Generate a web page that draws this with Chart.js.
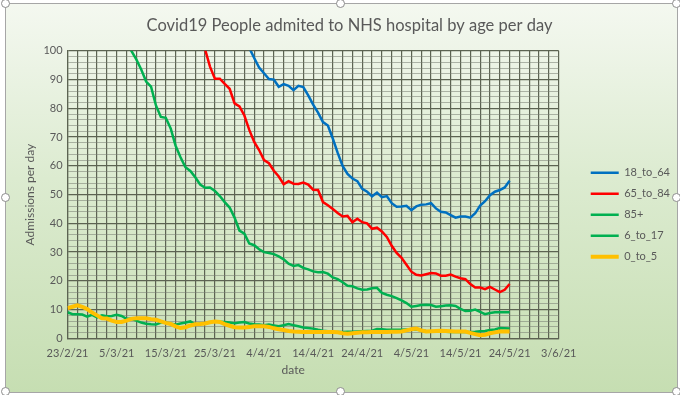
<!DOCTYPE html>
<html>
<head>
<meta charset="utf-8">
<script src="https://cdn.jsdelivr.net/npm/chart.js@4"></script>
<style>
  html, body { margin: 0; padding: 0; background: #fff; }
  #frame {
    position: absolute; left: 5px; top: 3px; width: 671px; height: 388px;
    border: 1px solid #a6a6a6;
    background: linear-gradient(to bottom, #f4f8f0 0%, #dcebd0 45%, #c6deb2 100%);
  }
  .handle {
    position: absolute; width: 9px; height: 9px; border-radius: 50%;
    background: #fff; border: 1px solid #8c8c8c; box-sizing: border-box;
  }
</style>
</head>
<body>
<div id="frame"><canvas id="chart"></canvas></div>
<script>
// day index 0 = 23/2/21, one value per day up to 24/5/21
const dateTicks = ['23/2/21', '5/3/21', '15/3/21', '25/3/21', '4/4/21', '14/4/21', '24/4/21', '4/5/21', '14/5/21', '24/5/21', '3/6/21'];
const seriesNames = ['18_to_64', '65_to_84', '85+', '6_to_17', '0_to_5'];

const age18to64 = [
  null, null, null, null, null, null, null, null, null, null,
  null, null, null, null, null, null, null, null, null, null,
  null, null, null, null, null, null, null, null, null, null,
  null, null, null, null, null, null, 104, 101, 97.5, 94.2,
  92.2, 90.2, 90, 87.5, 88.4, 87.8, 86.3, 87.8, 87.4, 84.5,
  81.3, 78.5, 75.2, 74, 69.5, 64.5, 60, 57.2, 55.6, 54.7,
  52, 51, 49.4, 50.7, 49.1, 49.5, 47, 45.8, 45.9, 46.1,
  44.6, 45.9, 46.5, 46.6, 47, 45.2, 44, 43.8, 42.9, 42,
  42.4, 42.4, 42, 43.5, 46.2, 47.7, 49.8, 51, 51.6, 52.5,
  54.8
];
const age65to84 = [
  null, null, null, null, null, null, null, null, null, null,
  null, null, null, null, null, null, null, null, null, null,
  null, null, null, null, null, null, 107, 104, 100.5, 94.5,
  90.3, 90.3, 88.5, 86.8, 81.7, 80.7, 77.5, 72.5, 68.3, 65.5,
  62, 60.9, 58.3, 56.3, 53.6, 54.7, 53.8, 53.7, 54.2, 53.5,
  51.7, 51.6, 47.4, 46.3, 45, 43.6, 42.4, 42.6, 40.4, 41.6,
  40.4, 40, 38.1, 38.5, 37.2, 35.3, 32.2, 29.7, 28, 25.6,
  23.2, 22.1, 21.9, 22.3, 22.7, 22.6, 21.8, 21.8, 22.2, 21.5,
  20.9, 20.6, 18.9, 17.7, 17.7, 17.1, 17.9, 17, 16.1, 16.9,
  18.9
];
const age85plus = [
  null, null, null, null, null, null, null, null, null, null,
  null, 106, 103, 100, 97, 93.5, 89.3, 87.5, 81, 77,
  76.7, 73, 67, 63, 59.5, 58.2, 56, 53.5, 52.4, 52.5,
  51.3, 49.5, 47.4, 45.5, 42, 37.5, 36.4, 33, 32.4, 31,
  30, 29.7, 29.3, 28.5, 27.5, 26, 25.2, 25.5, 24.5, 24,
  23.3, 23, 23.1, 22.5, 21.2, 20.6, 19.5, 18.3, 18.1, 17.4,
  16.9, 17, 17.4, 17.6, 15.8, 15.2, 14.7, 14, 13.2, 12.3,
  11, 11.3, 11.6, 11.7, 11.6, 11, 11.2, 11.4, 11.5, 11.3,
  10.3, 9.5, 9.6, 10, 9.2, 8.4, 8.8, 9.1, 9.1, 9.1,
  9.1
];
const age6to17 = [
  9.1, 8.4, 8.4, 8.3, 7.6, 8.2, 7.3, 8, 7.7, 7.8,
  8.2, 7.8, 6.8, 6.8, 6.2, 5.5, 5.1, 4.9, 4.8, 5.5,
  5.5, 5.1, 4.8, 5.2, 5.5, 5.9, 4.9, 5.1, 5.3, 5.6,
  5.9, 5.8, 5.7, 5.5, 5.3, 5.5, 5.7, 5.2, 4.9, 4.8,
  4.6, 4.8, 4.5, 4.2, 4.6, 5, 4.6, 4.2, 3.8, 3.6,
  3.4, 3, 2.7, 2.5, 2.3, 2.2, 2.2, 2.3, 2.3, 2.4,
  2.5, 2.6, 2.7, 3.3, 3.2, 3, 3, 3, 3, 3.1,
  3.2, 3.1, 2.8, 2.6, 2.5, 2.4, 2.3, 2.3, 2.2, 2.2,
  2.2, 2.2, 2.2, 2.3, 2.5, 2.6, 2.9, 3.1, 3.6, 3.5,
  3.4
];
const age0to5 = [
  10.5, 11, 11.5, 11, 10.2, 9, 8, 7, 6.9, 6.2,
  5.7, 5.7, 6.2, 6.8, 7, 7, 7, 6.7, 6.5, 5.9,
  5.4, 5, 4.2, 3.6, 3.9, 4.5, 4.9, 5, 5.2, 5.6,
  5.9, 5.7, 5, 4.4, 3.9, 3.8, 3.8, 4, 4.2, 4.2,
  4.2, 4, 3.5, 3.2, 2.9, 2.6, 2.4, 2.3, 2.2, 2.2,
  2.2, 2.2, 2.2, 2.2, 2.2, 2.1, 1.8, 1.6, 1.8, 2,
  2.1, 2.1, 2.2, 2.2, 2.2, 2.2, 2.3, 2.3, 2.4, 2.8,
  3.2, 3.4, 2.8, 2.4, 2.5, 2.6, 2.7, 2.6, 2.5, 2.4,
  2.4, 2.4, 1.9, 1.5, 1.1, 1.3, 1.8, 2.1, 2.4, 2.4,
  2.4
];

const seriesValues = [age18to64, age65to84, age85plus, age6to17, age0to5];
const seriesColors = ['#0070c0', '#ff0000', '#00b050', '#00b050', '#ffc000'];
const seriesWidths = [2.5, 2.5, 2.5, 2.5, 4];

// Excel-style selection handles round the chart frame
[[5, 3], [340, 3], [676, 3], [5, 197], [676, 197], [5, 391], [340, 391], [676, 391]].forEach(([x, y]) => {
  const h = document.createElement('div');
  h.className = 'handle';
  h.style.left = (x - 4) + 'px';
  h.style.top = (y - 4) + 'px';
  document.body.appendChild(h);
});

const textColor = '#595959';
const font = 'Lato, "Open Sans", sans-serif';

new Chart(document.getElementById('chart'), {
  type: 'line',
  data: {
    datasets: seriesNames.map((name, i) => ({
      label: name,
      data: seriesValues[i].map((v, d) => ({ x: d, y: v })),
      borderColor: seriesColors[i],
      backgroundColor: seriesColors[i],
      borderWidth: seriesWidths[i],
      pointRadius: 0,
      tension: 0,
      order: i === 4 ? -1 : i
    }))
  },
  options: {
    responsive: true,
    maintainAspectRatio: false,
    animation: false,
    layout: { padding: { left: 13, right: -3, top: 4, bottom: 11 } },
    plugins: {
      title: {
        display: true,
        text: 'Covid19 People admited to NHS hospital by age per day',
        color: textColor,
        font: { family: font, size: 16.5, weight: 'normal' },
        padding: { top: 8, bottom: 15 }
      },
      legend: {
        position: 'right',
        title: { display: true, text: ' ', padding: { top: 13, bottom: 13 }, font: { size: 12 } },
        labels: {
          usePointStyle: true,
          pointStyle: 'line',
          pointStyleWidth: 28,
          color: textColor,
          font: { family: font, size: 11 },
          padding: 10,
          sort: (a, b) => a.datasetIndex - b.datasetIndex
        }
      },
      tooltip: { enabled: false }
    },
    scales: {
      x: {
        type: 'linear',
        min: 0,
        max: 100,
        // trailing spaces nudge the title left of the plot centre, as in the original
        title: { display: true, text: 'date             ', color: textColor, font: { family: font, size: 12 }, padding: { top: -5, bottom: 4 } },
        ticks: {
          stepSize: 2,
          autoSkip: false,
          maxRotation: 0,
          padding: 8,
          color: textColor,
          font: { family: font, size: 11 },
          callback: v => (v % 10 === 0 ? dateTicks[v / 10] : '')
        },
        grid: { color: '#5c6352', lineWidth: 1.2, drawTicks: false },
        border: { color: '#5c6352', width: 1.2 }
      },
      y: {
        min: 0,
        max: 100,
        title: { display: true, text: 'Admissions per day', color: textColor, font: { family: font, size: 12 }, padding: { top: 4, bottom: 1 } },
        ticks: {
          stepSize: 2,
          autoSkip: false,
          padding: 5,
          color: textColor,
          font: { family: font, size: 11 },
          callback: v => (v % 10 === 0 ? String(v) : '')
        },
        grid: {
          color: ctx => (ctx.tick && ctx.tick.value % 10 === 0 ? '#5c6352' : 'rgba(120,125,115,0.55)'),
          lineWidth: ctx => (ctx.tick && ctx.tick.value % 10 === 0 ? 1.3 : 1),
          drawTicks: false
        },
        border: { color: '#5c6352', width: 1.2 }
      },
      // empty axis: only keeps a gap between the plot and the legend
      gap: {
        position: 'right',
        min: 0,
        max: 100,
        ticks: { display: false },
        grid: { display: false },
        border: { display: false },
        afterFit: scale => { scale.width = 22; }
      }
    }
  }
});
</script>
</body>
</html>
